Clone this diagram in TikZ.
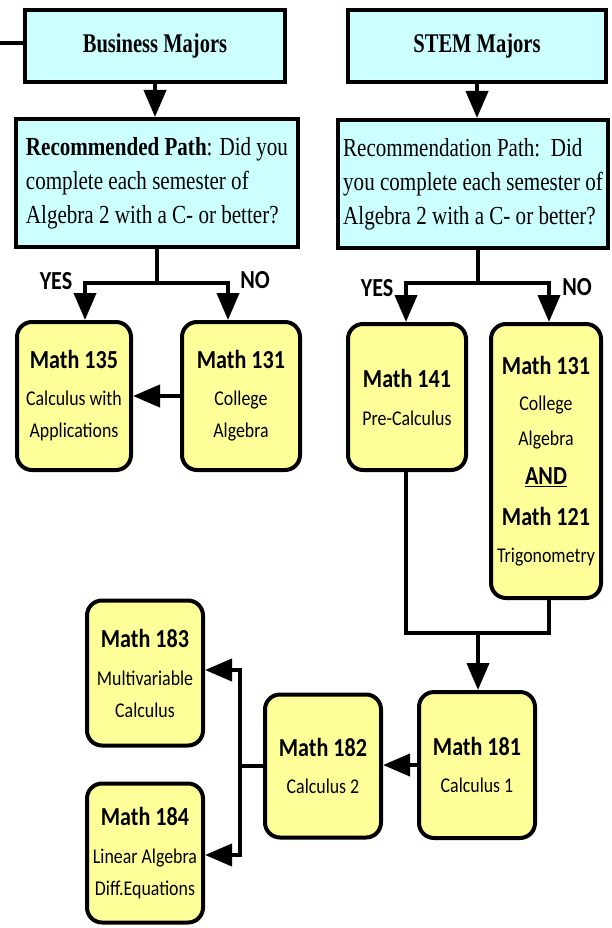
\documentclass[tikz,border=0pt]{standalone}
\usepackage{fontspec}
\setmainfont{Carlito}[FakeStretch=0.85]
\newfontfamily\qfont{Liberation Serif}[FakeStretch=0.81]
\newfontfamily\hfont{Liberation Serif}[FakeStretch=0.76]
\usetikzlibrary{arrows.meta,positioning}
\definecolor{majorcyan}{RGB}{204,255,255}
\definecolor{courseyellow}{RGB}{255,255,153}
\newcommand\crs[1]{{\bfseries\fontsize{26}{32}\selectfont #1}}

\begin{document}
\begin{tikzpicture}[x=1pt, y=-1pt, >={Triangle[width=22pt,length=27pt]}, line width=4pt]
  \tikzstyle{major}=[draw, fill=majorcyan, minimum width=260pt, minimum height=72pt, font=\hfont\bfseries\fontsize{27}{30}\selectfont]
  \tikzstyle{quest}=[draw, fill=majorcyan, align=left, minimum height=128pt, inner xsep=4pt, font=\qfont\fontsize{26}{34}\selectfont]
  \tikzstyle{course}=[draw, fill=courseyellow, rounded corners=15pt, align=center, minimum width=116pt, minimum height=146pt, inner sep=2pt, font=\fontsize{21}{32}\selectfont]
  \tikzstyle{lbl}=[font=\bfseries\fontsize{26}{28}\selectfont]

  \useasboundingbox (0,0) rectangle (612,928);

  \node[major] (bus) at (155,46) {Business Majors};
  \node[major, minimum width=258pt] (stem) at (477,46) {STEM Majors};

  \node[quest, minimum width=282pt] (busq) at (157,183)
    {\textbf{Recommended Path}: Did you\\complete each semester of\\Algebra 2 with a C- or better?};
  \node[quest, minimum width=270pt] (stemq) at (473,184)
    {Recommendation Path:\ \ Did\\you complete each semester of\\Algebra 2 with a C- or better?};

  \node[course, minimum width=114pt, minimum height=148pt] (m135) at (74,396) {\crs{Math 135}\\[5pt]Calculus with\\Applications};
  \node[course, minimum width=118pt, minimum height=148pt] (m131a) at (241,396) {\crs{Math 131}\\[5pt]College\\Algebra};
  \node[course, minimum width=118pt] (m141) at (407,397) {\crs{Math 141}\\[6pt]Pre-Calculus};
  \node[course, minimum width=110pt, minimum height=274pt, font=\fontsize{21}{35}\selectfont] (m131b) at (546,461)
    {\crs{Math 131}\\[1pt]College\\Algebra\\[4pt]\crs{\underline{AND}}\\[6pt]\crs{Math 121}\\[2pt]Trigonometry};

  \node[course] (m181) at (477,765) {\crs{Math 181}\\[5pt]Calculus 1};
  \node[course, minimum height=143pt] (m182) at (323,766) {\crs{Math 182}\\[5pt]Calculus 2};
  \node[course, minimum height=145pt] (m183) at (145,673) {\crs{Math 183}\\[6pt]Multivariable\\Calculus};
  \node[course, minimum height=139pt] (m184) at (145,853) {\crs{Math 184}\\[6pt]Linear Algebra\\Diff.Equations};

  \node[lbl] (byes) at (56,281) {YES};
  \node[lbl] (bno) at (255,280) {NO};
  \node[lbl] (syes) at (377,288) {YES};
  \node[lbl] (sno) at (577,287) {NO};

  % lead-in from the left edge
  \coordinate (feed) at (0,43);
  \draw (feed) -- (feed -| bus.west);

  \draw[->] (bus.south) -- (bus.south |- busq.north);
  \draw[->] (stem.south) -- (stem.south |- stemq.north);

  \coordinate (bsplit) at (157,283);
  \coordinate (bleft) at (85,283);
  \coordinate (bright) at (228,283);
  \draw (busq.south) -- (bsplit);
  \draw[<->] (bleft |- m135.north) -- (bleft) -- (bright) -- (bright |- m131a.north);
  \draw[->] (m131a.west) -- (m131a.west -| m135.east);

  \coordinate (ssplit) at (478,283);
  \coordinate (sleft) at (406,283);
  \coordinate (sright) at (549,283);
  \draw (ssplit |- stemq.south) -- (ssplit);
  \draw[<->] (sleft |- m141.north) -- (sleft) -- (sright) -- (sright |- m131b.north);

  \coordinate (join) at (478,633);
  \draw (sleft |- m141.south) -- (sleft |- join) -- (sright |- join) -- (sright |- m131b.south);
  \draw[->] (join) -- (join |- m181.north);
  \draw[->] (m181.west) -- (m181.west -| m182.east);

  \coordinate (fup) at (240,670);
  \coordinate (fdown) at (240,855);
  \draw (m182.west) -- (m182.west -| fup);
  \draw[<->] (fup -| m183.east) -- (fup) -- (fdown) -- (fdown -| m184.east);
\end{tikzpicture}
\end{document}
